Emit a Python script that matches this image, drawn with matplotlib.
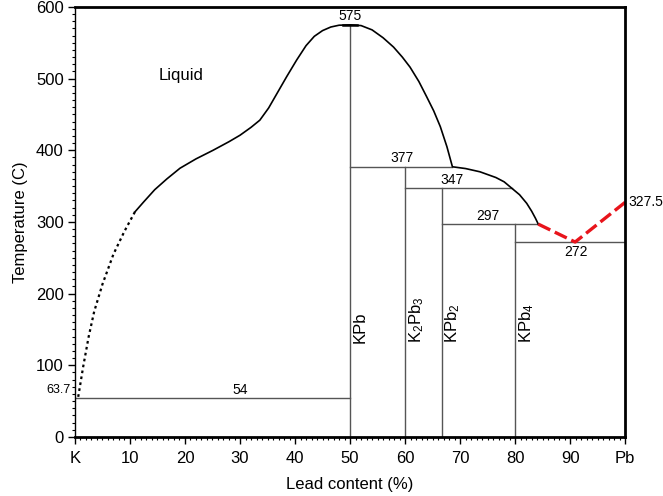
import matplotlib
matplotlib.use("Agg")
import matplotlib.pyplot as plt

plt.rcParams['font.family'] = ['Liberation Sans', 'DejaVu Sans']
plt.rcParams['mathtext.default'] = 'regular'

# ---- data ----
dotted_x = [0.6, 1.5, 2.5, 3.5, 5.0, 7.0, 9.0, 10.9]
dotted_T = [56, 98, 140, 175, 213, 255, 287, 314]

liq_x = [10.9, 12.5, 14.5, 16.7, 19.1, 22.0, 25.1, 28.0, 30.0, 32.0, 33.6, 35.2, 36.7,
         38.5, 40.3, 42.0, 43.5, 45.0, 46.5, 48.0, 50.0,
         52.0, 54.0, 56.0, 57.9, 59.5, 60.9, 62.5, 63.9, 65.2, 66.4, 67.6, 68.6,
         71.0, 73.6, 76.5, 78.0, 79.4, 80.8, 82.1, 83.0, 83.7, 84.2]
liq_T = [314, 328, 345, 360, 375, 388, 400, 412, 421, 432, 442, 459, 479,
         503, 526, 546, 559, 567, 572, 574.5, 575,
         574, 568, 557, 544, 530, 516, 496, 475, 455, 433, 405, 377,
         374.5, 370, 362, 356, 347, 338, 326, 315, 305, 297]

eut_x = [84.2, 90.9, 100]
eut_T = [297, 272, 327.5]

# phase boundaries: vertical (x, T_top), horizontal (x0, x1, T)
vert_x = [50, 60, 66.7, 80]
vert_T = [575, 377, 347, 297]
hor_x0 = [0, 50, 60, 66.7, 80]
hor_x1 = [50, 68.6, 79.4, 84.2, 100]
hor_T = [54, 377, 347, 297, 272]

compounds = ['KPb', 'K$_2$Pb$_3$', 'KPb$_2$', 'KPb$_4$']
compound_x = [50.4, 60.4, 66.9, 80.4]

xticks = [0, 10, 20, 30, 40, 50, 60, 70, 80, 90, 100]
xticklabels = ['K', '10', '20', '30', '40', '50', '60', '70', '80', '90', 'Pb']
yticks = [0, 100, 200, 300, 400, 500, 600]

fig = plt.figure(figsize=(6.63, 4.96), dpi=100)
ax = fig.add_axes([0.113, 0.119, 0.830, 0.867])

lc = '#555555'
for x, t in zip(vert_x, vert_T):
    ax.plot([x, x], [0, t], color=lc, lw=1.0)
for a, b, t in zip(hor_x0, hor_x1, hor_T):
    ax.plot([a, b], [t, t], color=lc, lw=1.0)

ax.plot(dotted_x, dotted_T, color='black', lw=1.6, ls=(0, (1.2, 1.5)))
ax.plot(liq_x, liq_T, color='black', lw=1.2)
ax.plot([48.7, 51.3], [575, 575], color='black', lw=1.8)
ax.plot(eut_x, eut_T, color='#e8141b', lw=2.4, ls=(0, (4, 1.5)))

fs = 10
ax.text(50, 578, '575', ha='center', va='bottom', fontsize=fs)
ax.text(30, 56, '54', ha='center', va='bottom', fontsize=fs)
ax.text(59.5, 379, '377', ha='center', va='bottom', fontsize=fs)
ax.text(68.5, 349, '347', ha='center', va='bottom', fontsize=fs)
ax.text(75, 299, '297', ha='center', va='bottom', fontsize=fs)
ax.text(91, 268, '272', ha='center', va='top', fontsize=fs)
ax.text(100.6, 327.5, '327.5', ha='left', va='center', fontsize=fs, clip_on=False)
ax.text(-0.7, 66, '63.7', ha='right', va='center', fontsize=9, clip_on=False)
ax.text(19.3, 505, 'Liquid', ha='center', va='center', fontsize=12)

for name, x in zip(compounds, compound_x):
    ax.text(x, 131, name, rotation=90, ha='left', va='bottom', fontsize=12)

ax.set_xlim(0, 100)
ax.set_ylim(0, 600)
ax.set_xticks(xticks)
ax.set_xticklabels(xticklabels)
ax.set_yticks(yticks)
ax.set_xticks(range(0, 101, 1), minor=True)
ax.set_yticks(range(0, 601, 10), minor=True)
ax.tick_params(which='major', direction='out', length=5, width=1, labelsize=12)
ax.tick_params(axis='x', which='major', pad=5)
ax.tick_params(axis='y', which='major', pad=3)
ax.tick_params(which='minor', direction='out', length=2.5, width=0.8)
ax.set_xlabel('Lead content (%)', fontsize=12, labelpad=8)
ax.set_ylabel('Temperature (C)', fontsize=12, labelpad=6)

ax.spines['left'].set_linewidth(1.0)
for s in ['bottom', 'top', 'right']:
    ax.spines[s].set_linewidth(2.0)

fig.savefig('out.png', dpi=100)
